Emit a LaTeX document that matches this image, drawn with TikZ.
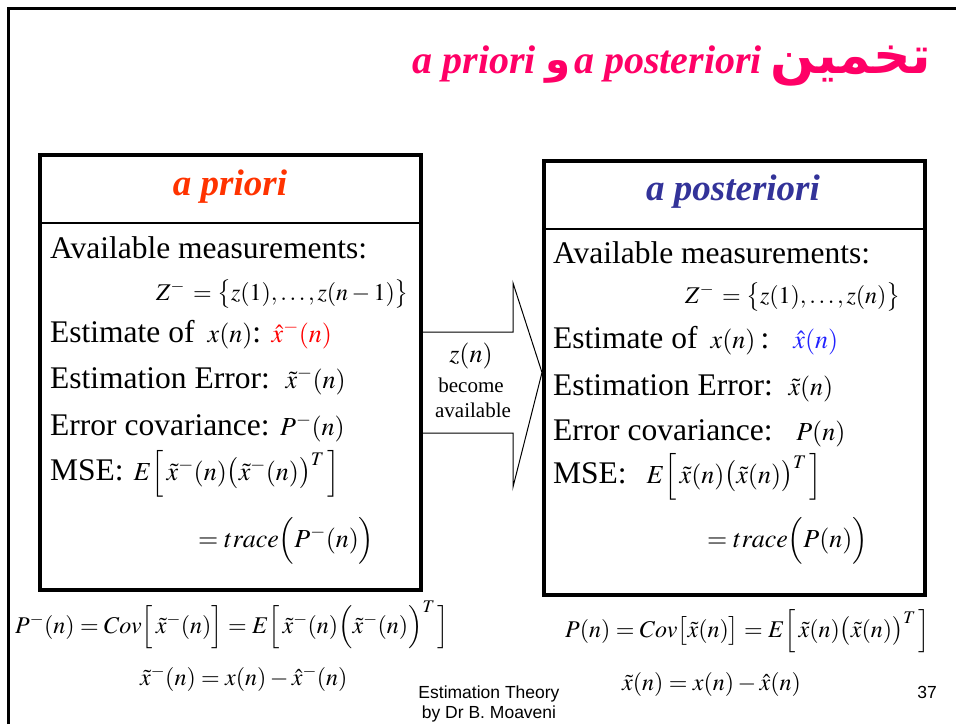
\documentclass[tikz,border=0pt]{standalone}
\usepackage{mathptmx}
\usepackage{graphicx}
\usepackage{fontspec}
\setmainfont{Liberation Serif}
\setsansfont{Liberation Sans}
\newfontfamily\arabicfont[Script=Arabic, Scale=1.3]{DejaVu Sans}
\newfontfamily\titlelatin{Liberation Serif}
\TeXXeTstate=1
\usetikzlibrary{calc}

\definecolor{titlepink}{HTML}{FF0066}
\definecolor{priorred}{HTML}{FF3300}
\definecolor{postblue}{HTML}{333399}
\definecolor{hatblue}{HTML}{2222FF}

\newcommand{\bodysize}{\fontsize{31.5}{36}\selectfont}
\newcommand{\mth}[1]{{\fontsize{26}{30}\selectfont$#1$}}
\newcommand{\smth}[1]{{\fontsize{24}{28}\selectfont$#1$}}

\begin{document}
\begin{tikzpicture}[x=1pt, y=-1pt,
    line/.style={anchor=base west, inner sep=0pt, font=\bodysize},
    headtxt/.style={anchor=base, inner sep=0pt, font=\fontsize{37}{40}\selectfont\bfseries\itshape},
    frame/.style={draw, line width=4pt, inner sep=0pt, minimum width=381pt},
    formula/.style={anchor=base west, inner sep=0pt, font=\fontsize{24}{28}\selectfont},
    footer/.style={anchor=base, inner sep=0pt, font=\sffamily\fontsize{17.5}{20}\selectfont}]
    \useasboundingbox (0,0) rectangle (956,724);

    % --- page border ---
    \draw[line width=3pt] (8,724) -- (8,8) -- (956,8);

    % --- title ---
    \node[anchor=base east, inner sep=0pt, text=titlepink,
          font=\fontsize{40}{44}\selectfont\bfseries] (title) at (931,73)
        {\arabicfont\beginR تخمین\hspace{9pt}\beginL{\titlelatin\bfseries\itshape a posteriori}\endL{}\hspace{4pt}{\fontsize{31}{36}\selectfont و}\hspace{9pt}\beginL{\titlelatin\bfseries\itshape a priori}\endL{}\endR};

    % --- the two boxes ---
    \node[frame, minimum height=435pt] (prior) at (230.5,372.5) {};
    \node[frame, minimum height=434pt] (post) at (734.5,378) {};
    \draw[line width=2pt] ($(prior.north west)+(0,70)$) -- ($(prior.north east)+(0,70)$);
    \draw[line width=2pt] ($(post.north west)+(0,70)$) -- ($(post.north east)+(0,70)$);

    % --- headings ---
    \node[headtxt, text=priorred] (priorhead) at (230,195) {a priori};
    \node[headtxt, text=postblue] (posthead) at (733,200) {a posteriori};

    % --- a priori box ---
    \node[line] (pr1) at (50,258) {Available measurements:};
    \node[line] (pr2) at (156,300) {\smth{Z^-\, = \bigl\{z(1),\ldots,z(n-1)\bigr\}}};
    \node[line] (pr3) at (50,342) {Estimate of\, \mth{x(n)}: \mth{\color{red}\hat{x}^-(n)}};
    \node[line] (pr4) at (50,388) {Estimation Error:\, \mth{\tilde{x}^-(n)}};
    \node[line] (pr5) at (50,435) {Error covariance: \mth{P^-(n)}};
    \node[line] (pr6) at (50,480) {MSE:\hspace{10pt}\mth{E\Bigl[\,\tilde{x}^-(n)\bigl(\tilde{x}^-(n)\bigr)^T\,\Bigr]}};
    \node[line] (pr7) at (198,547) {\mth{=trace\Bigl(P^-(n)\Bigr)}};

    % --- a posteriori box ---
    \node[line] (po1) at (553,263) {Available measurements:};
    \node[line] (po2) at (685,303) {\smth{Z^-\, = \bigl\{z(1),\ldots,z(n)\bigr\}}};
    \node[line] (po3) at (553,348) {Estimate of\, \mth{x(n)}\,:\hspace{24pt}\mth{\color{hatblue}\hat{x}(n)}};
    \node[line] (po4) at (553,395) {Estimation Error:\ \ \mth{\tilde{x}(n)}};
    \node[line] (po5) at (553,440) {Error covariance:\ \ \ \mth{P(n)}};
    \node[line] (po6) at (553,483) {MSE:\hspace{20pt}\mth{E\Bigl[\,\tilde{x}(n)\bigl(\tilde{x}(n)\bigr)^T\,\Bigr]}};
    \node[line] (po7) at (707,547) {\mth{=trace\Bigl(P(n)\Bigr)}};

    % --- block arrow between the boxes ---
    \coordinate (shafttop) at (0,332);
    \coordinate (shaftbot) at (0,433);
    \coordinate (headtop) at (513,283);
    \coordinate (headbot) at (513,487);
    \draw[line width=1pt] (prior.east |- shafttop) -- (headtop |- shafttop) -- (headtop)
        -- (post.west |- prior.east) -- (headbot) -- (headbot |- shaftbot) -- (prior.east |- shaftbot);
    \node[anchor=base, inner sep=0pt, font=\fontsize{21}{24}\selectfont] (arrtxt) at (471,362)
        {\mth{z(n)}};
    \node[anchor=base, inner sep=0pt, font=\fontsize{21}{24}\selectfont] (arrtxt2) at (471,392) {become};
    \node[anchor=base, inner sep=0pt, font=\fontsize{21}{24}\selectfont] (arrtxt3) at (473,417) {available};

    % --- formulas under the boxes ---
    \node[formula] (covprior) at (15,633)
        {$P^-(n)=Cov\Bigl[\,\tilde{x}^-(n)\Bigr]=E\Bigl[\,\tilde{x}^-(n)\Bigl(\tilde{x}^-(n)\Bigr)^T\,\Bigr]$};
    \node[formula] (covpost) at (565,637)
        {$P(n)=Cov\bigl[\tilde{x}(n)\bigr]=E\Bigl[\,\tilde{x}(n)\bigl(\tilde{x}(n)\bigr)^T\,\Bigr]$};
    \node[formula] (errprior) at (140,685) {$\tilde{x}^-(n)=x(n)-\hat{x}^-(n)$};
    \node[formula] (errpost) at (622,690) {$\tilde{x}(n)=x(n)-\hat{x}(n)$};

    % --- footer ---
    \node[footer] (foot1) at (489,698) {Estimation Theory};
    \node[footer] (foot2) at (489,718) {by Dr B. Moaveni};
    \node[footer] (pagenum) at (927,698) {37};
\end{tikzpicture}
\end{document}
